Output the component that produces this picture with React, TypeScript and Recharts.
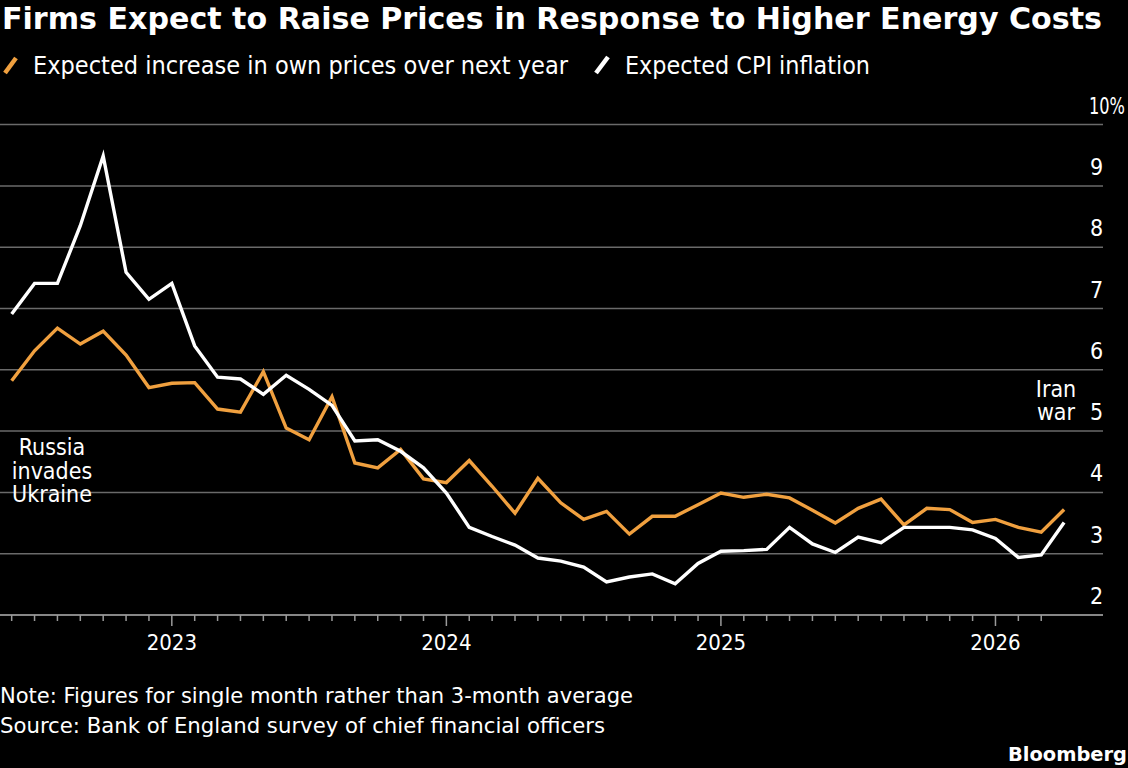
import React from 'react';
import { LineChart, Line, XAxis, YAxis, CartesianGrid } from 'recharts';

// monthly survey readings, Jun 2022 - Apr 2026
const months = [
  '2022-06', '2022-07', '2022-08', '2022-09', '2022-10', '2022-11', '2022-12',
  '2023-01', '2023-02', '2023-03', '2023-04', '2023-05', '2023-06', '2023-07',
  '2023-08', '2023-09', '2023-10', '2023-11', '2023-12',
  '2024-01', '2024-02', '2024-03', '2024-04', '2024-05', '2024-06', '2024-07',
  '2024-08', '2024-09', '2024-10', '2024-11', '2024-12',
  '2025-01', '2025-02', '2025-03', '2025-04', '2025-05', '2025-06', '2025-07',
  '2025-08', '2025-09', '2025-10', '2025-11', '2025-12',
  '2026-01', '2026-02', '2026-03', '2026-04',
];

const ownPrices = [
  5.82, 6.31, 6.68, 6.42, 6.63, 6.24, 5.71,
  5.78, 5.79, 5.36, 5.31, 5.97, 5.05, 4.86, 5.56, 4.48, 4.4, 4.7, 4.22,
  4.16, 4.52, 4.1, 3.66, 4.23, 3.83, 3.56, 3.69, 3.32, 3.61, 3.61, 3.8,
  3.99, 3.92, 3.97, 3.91, 3.71, 3.5, 3.74, 3.89, 3.47, 3.74, 3.72, 3.51,
  3.56, 3.43, 3.35, 3.72,
];

const cpiExpected = [
  6.91, 7.41, 7.41, 8.35, 9.49, 7.59, 7.15,
  7.41, 6.39, 5.88, 5.85, 5.6, 5.91, 5.68, 5.42, 4.84, 4.86, 4.67, 4.4,
  3.99, 3.43, 3.28, 3.14, 2.93, 2.88, 2.78, 2.54, 2.62, 2.67, 2.51, 2.84,
  3.04, 3.05, 3.07, 3.43, 3.16, 3.02, 3.27, 3.18, 3.43, 3.43, 3.43, 3.39,
  3.25, 2.94, 2.98, 3.51,
];

const yTicks = [2, 3, 4, 5, 6, 7, 8, 9, 10];

const ORANGE = '#f0a03f';
const FONT = '"DejaVu Sans Condensed", "DejaVu Sans", sans-serif';

const data = months.map((m, i) => ({
  i,
  month: m,
  own: ownPrices[i],
  cpi: cpiExpected[i],
}));

// a tick on every month except the last reading
const xTicks = months.slice(0, -1).map((_, i) => i);

function XTick(props: any) {
  const { x, y, payload } = props;
  const m = months[payload.value];
  const isYear = m && m.endsWith('-01');
  return (
    <g>
      <line x1={x} x2={x} y1={y} y2={y + (isYear ? 11 : 6)} stroke="#9a9a9a" strokeWidth={1.5} />
      {isYear && (
        <text
          x={x}
          y={y + 35}
          textAnchor="middle"
          fill="#fff"
          fontSize={22}
          fontFamily={FONT}
          fontStretch="condensed"
        >
          {m.slice(0, 4)}
        </text>
      )}
    </g>
  );
}

function YTick(props: any) {
  const { x, y, payload } = props;
  const top = payload.value === 10;
  return (
    <text
      x={x - (top ? 14 : 13)}
      y={y - 11}
      textAnchor="start"
      fill="#fff"
      fontSize={23}
      fontFamily={FONT}
      fontStretch="condensed"
      textLength={top ? 36 : undefined}
      lengthAdjust={top ? 'spacingAndGlyphs' : undefined}
    >
      {top ? '10%' : payload.value}
    </text>
  );
}

export default function App() {
  return (
    <div
      style={{
        position: 'absolute',
        left: 0,
        top: 0,
        width: 1128,
        height: 768,
        background: '#000',
        overflow: 'hidden',
      }}
    >
      <div style={{ position: 'absolute', left: 0, top: 0 }}>
        <LineChart
          width={1128}
          height={768}
          data={data}
          margin={{ top: 124.6, right: 0, bottom: 103, left: 0 }}
        >
          <CartesianGrid vertical={false} stroke="#6a6a6a" strokeWidth={1.5} />
          <XAxis
            dataKey="i"
            type="number"
            domain={[-0.51, 47.7]}
            allowDataOverflow
            ticks={xTicks}
            interval={0}
            tick={<XTick />}
            tickSize={0}
            tickMargin={0}
            tickLine={false}
            axisLine={{ stroke: '#9a9a9a', strokeWidth: 1.5 }}
            height={50}
          />
          <YAxis
            orientation="right"
            type="number"
            domain={[2, 10]}
            ticks={yTicks}
            interval={0}
            tick={<YTick />}
            tickSize={0}
            tickMargin={0}
            tickLine={false}
            axisLine={false}
            width={25}
          />
          <Line
            dataKey="own"
            type="linear"
            stroke={ORANGE}
            strokeWidth={3.4}
            dot={false}
            isAnimationActive={false}
          />
          <Line
            dataKey="cpi"
            type="linear"
            stroke="#ffffff"
            strokeWidth={3.4}
            dot={false}
            isAnimationActive={false}
          />
        </LineChart>
      </div>
      <svg
        width={1128}
        height={768}
        style={{ position: 'absolute', left: 0, top: 0, pointerEvents: 'none' }}
      >
        <text
          x={2}
          y={29}
          fill="#fff"
          fontSize={30}
          fontWeight="bold"
          fontFamily={FONT}
          fontStretch="condensed"
          textLength={1100}
          lengthAdjust="spacingAndGlyphs"
        >
          Firms Expect to Raise Prices in Response to Higher Energy Costs
        </text>

        <line x1={5} y1={73} x2={16} y2={58} stroke={ORANGE} strokeWidth={4.5} />
        <text
          x={33}
          y={74}
          fill="#fff"
          fontSize={24}
          fontFamily={FONT}
          fontStretch="condensed"
          textLength={535}
          lengthAdjust="spacingAndGlyphs"
        >
          Expected increase in own prices over next year
        </text>
        <line x1={596} y1={73} x2={608} y2={57} stroke="#fff" strokeWidth={4.5} />
        <text
          x={625}
          y={74}
          fill="#fff"
          fontSize={24}
          fontFamily={FONT}
          fontStretch="condensed"
          textLength={245}
          lengthAdjust="spacingAndGlyphs"
        >
          Expected CPI inflation
        </text>

        <g fill="#fff" fontSize={23} fontFamily={FONT} fontStretch="condensed" textAnchor="middle">
          <text x={52} y={455}>Russia</text>
          <text x={52} y={479}>invades</text>
          <text x={52} y={502}>Ukraine</text>
          <text x={1056} y={397}>Iran</text>
          <text x={1056} y={420}>war</text>
        </g>

        <text
          x={0}
          y={703}
          fill="#fff"
          fontSize={22}
          fontFamily={FONT}
          fontStretch="condensed"
          textLength={633}
          lengthAdjust="spacingAndGlyphs"
        >
          Note: Figures for single month rather than 3-month average
        </text>
        <text
          x={0}
          y={733}
          fill="#fff"
          fontSize={22}
          fontFamily={FONT}
          fontStretch="condensed"
          textLength={605}
          lengthAdjust="spacingAndGlyphs"
        >
          Source: Bank of England survey of chief financial officers
        </text>
        <text
          x={1008}
          y={761}
          fill="#fff"
          fontSize={19}
          fontWeight="bold"
          fontFamily='"DejaVu Sans", sans-serif'
          textLength={119}
          lengthAdjust="spacingAndGlyphs"
        >
          Bloomberg
        </text>
      </svg>
    </div>
  );
}
